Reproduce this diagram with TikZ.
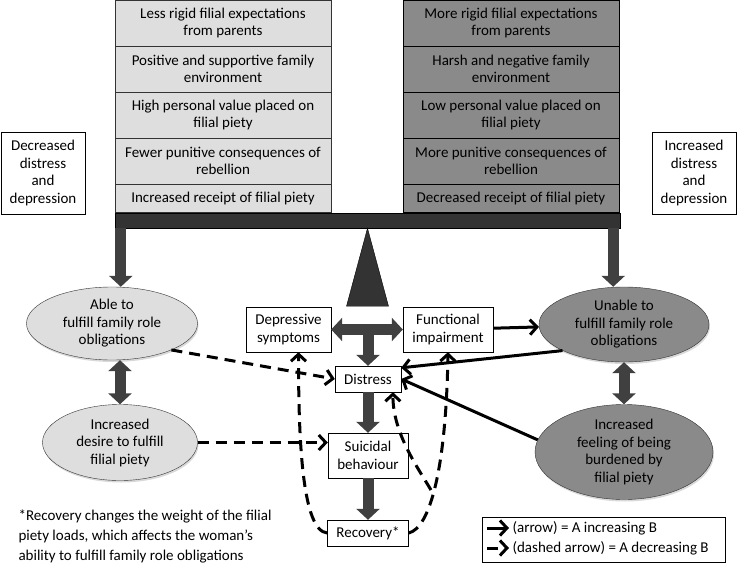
\documentclass[tikz,border=0pt]{standalone}
\usepackage{fontspec}
\setmainfont{Carlito}
\usepackage{tikz}
\usetikzlibrary{calc,arrows.meta,shapes.geometric,shadows}

\definecolor{lightfill}{gray}{0.87}
\definecolor{darkfill}{gray}{0.54}
\definecolor{beamfill}{gray}{0.2}
\definecolor{fatfill}{gray}{0.25}

\tikzset{
  every node/.style={font=\fontsize{15}{17.5}\selectfont, align=center},
  lbox/.style={draw=black!80, fill=lightfill, minimum width=216pt, inner sep=1pt},
  dbox/.style={draw=black, fill=darkfill, minimum width=216pt, inner sep=1pt},
  wbox/.style={draw, fill=white, inner sep=1pt},
  lell/.style={ellipse, draw=black!80, fill=lightfill, inner sep=0pt,
    drop shadow={opacity=0.3, shadow xshift=1pt, shadow yshift=-2pt}},
  dell/.style={lell, fill=darkfill},
  fat/.style={draw=fatfill, line width=11pt, -{Triangle[length=11pt,width=23pt]}},
  fatboth/.style={fat, {Triangle[length=11pt,width=23pt]}-{Triangle[length=11pt,width=23pt]}},
  arr/.style={line width=3pt, -{Straight Barb[length=7pt,width=15pt]}},
  darr/.style={arr, dash pattern=on 11pt off 7pt}
}

\begin{document}
\begin{tikzpicture}[x=1pt,y=-1pt]
  \useasboundingbox (0,0) rectangle (737,565);

  \node[lbox, minimum height=46pt] (l1) at (223,23) {Less rigid filial expectations\\from parents};
  \node[lbox, minimum height=46pt] (l2) at (223,69) {Positive and supportive family\\environment};
  \node[lbox, minimum height=46pt] (l3) at (223,115) {High personal value placed on\\filial piety};
  \node[lbox, minimum height=46pt] (l4) at (223,161) {Fewer punitive consequences of\\rebellion};
  \node[lbox, minimum height=28pt] (l5) at (223,198) {Increased receipt of filial piety};

  \node[dbox, minimum height=46pt] (r1) at (511,23) {More rigid filial expectations\\from parents};
  \node[dbox, minimum height=46pt] (r2) at (511,69) {Harsh and negative family\\environment};
  \node[dbox, minimum height=46pt] (r3) at (511,115) {Low personal value placed on\\filial piety};
  \node[dbox, minimum height=46pt] (r4) at (511,161) {More punitive consequences of\\rebellion};
  \node[dbox, minimum height=28pt] (r5) at (511,198) {Decreased receipt of filial piety};

  \node[draw, minimum width=84pt, minimum height=82pt, inner sep=1pt] (dec) at (43,173) {Decreased\\distress\\and\\depression};
  \node[draw, minimum width=84pt, minimum height=82pt, inner sep=1pt] (inc) at (694,173) {Increased\\distress\\and\\depression};

  \node[draw, fill=beamfill, minimum width=505pt, minimum height=15pt, inner sep=0pt] (beam) at (367.5,220.5) {};
  \filldraw[fill=beamfill] (beam.south) -- ++(-21,78) -- ++(42,0) -- cycle;

  \node[lell, minimum width=171pt, minimum height=73pt] (able) at (112,323.5) {Able to\\fulfill family role\\obligations};
  \node[lell, minimum width=155pt, minimum height=76pt] (desire) at (120,442.5) {Increased\\desire to fulfill\\filial piety};
  \node[dell, minimum width=170pt, minimum height=75pt] (unable) at (624,324.5) {Unable to\\fulfill family role\\obligations};
  \node[dell, minimum width=178pt, minimum height=95pt] (burden) at (624,452) {Increased\\feeling of being\\burdened by\\filial piety};

  \node[wbox, minimum width=85pt, minimum height=45pt] (dep) at (288.5,329.5) {Depressive\\symptoms};
  \node[wbox, minimum width=90pt, minimum height=45pt] (func) at (448,329.5) {Functional\\impairment};
  \node[wbox, minimum width=66pt, minimum height=26pt] (dist) at (368,379) {Distress};
  \node[wbox, minimum width=80pt, minimum height=45pt] (suic) at (368,455.5) {Suicidal\\behaviour};
  \node[wbox, minimum width=81pt, minimum height=26pt] (rec) at (368,533) {Recovery*};

  \coordinate (lleg) at ($(beam.south west)+(6,0)$);
  \coordinate (rleg) at ($(beam.south east)+(-7,0)$);
  \draw[fat] (lleg) -- (lleg |- able.north);
  \draw[fat] (rleg) -- (rleg |- unable.north);
  \draw[fatboth] (able.south -| desire.north) -- (desire.north);
  \draw[fatboth] (unable) -- (burden);
  \draw[fatboth] (dep) -- (func);
  \draw[fat] (dep.east -| dist.north) -- (dist.north);
  \draw[fat] (dist) -- (suic);
  \draw[fat] (suic) -- (rec);

  \draw[arr] (func) -- (unable);
  \draw[arr] (unable.203) -- ($(dist.north east)+(0,2)$);
  \draw[arr] (burden.172) -- (dist.east);
  \draw[darr] (able.336) -- (dist.west);
  \draw[darr] (desire.east) -- (desire.east -| suic.west);

  \coordinate (depin) at ($(dep.south)+(10,0)$);
  \coordinate (fork) at (431,490);
  \coordinate (distin) at ($(dist.south)!0.75!(dist.south east)$);
  \draw[darr] (rec.west) .. controls +(-25,-2) and +(0,90) .. (depin);
  \draw[darr] (rec.east) .. controls +(21,-5) and +(-2,118) .. (func.south);
  \draw[darr] (fork) .. controls +(-15,-25) and +(0,40) .. (distin);

  \node[draw, minimum width=243pt, minimum height=45pt, anchor=north west, inner sep=0pt] (legend) at (482,517) {};
  \node[anchor=west] (leg1) at (509,528) {(arrow) = A increasing B};
  \node[anchor=west] (leg2) at (509,548) {(dashed arrow) = A decreasing B};
  \draw[arr] ($(leg1.west)+(-22,0)$) -- (leg1.west);
  \draw[darr] ($(leg2.west)+(-22,0)$) -- (leg2.west);

  \node[anchor=west, align=left, font=\fontsize{15}{20}\selectfont] (note) at (15,536) {*Recovery changes the weight of the filial\\piety loads, which affects the woman's\\ability to fulfill family role obligations};
\end{tikzpicture}
\end{document}
